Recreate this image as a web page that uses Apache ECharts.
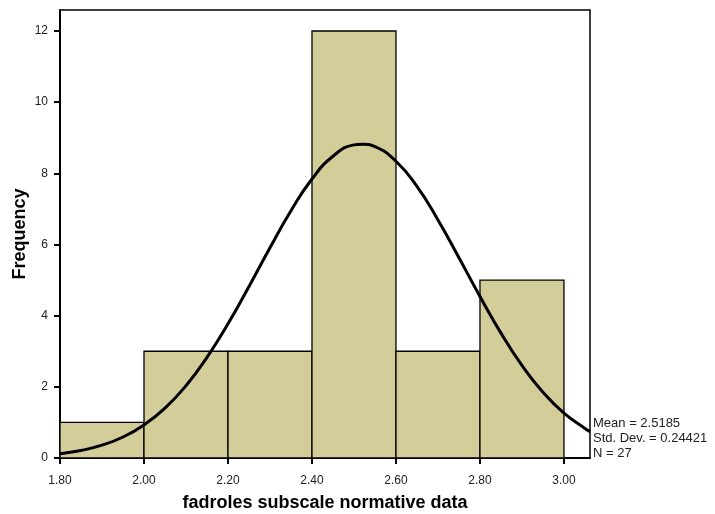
<!DOCTYPE html>
<html>
<head>
<meta charset="utf-8">
<script src="https://cdn.jsdelivr.net/npm/echarts@6/dist/echarts.min.js"></script>
<style>
  html, body { margin: 0; padding: 0; background: #fff; }
  #chart { width: 715px; height: 514px; }
</style>
</head>
<body>
<div id="chart"></div>
<script>
// histogram bins (lower edge, upper edge) and counts
var binStart = [1.8, 2.0, 2.2, 2.4, 2.6, 2.8];
var binEnd = [2.0, 2.2, 2.4, 2.6, 2.8, 3.0];
var counts = [1, 3, 3, 12, 3, 5];

// normal curve
var curveX = [1.8, 1.85, 1.9, 1.95, 2.0, 2.05, 2.1, 2.15, 2.2, 2.25, 2.3, 2.35, 2.4, 2.45, 2.5, 2.52, 2.55, 2.6, 2.65, 2.7, 2.75, 2.8, 2.85, 2.9, 2.95, 3.0, 3.05, 3.062];
var curveY = [0.12, 0.21, 0.36, 0.59, 0.93, 1.40, 2.03, 2.83, 3.77, 4.82, 5.91, 6.95, 7.84, 8.48, 8.80, 8.82, 8.75, 8.34, 7.63, 6.69, 5.63, 4.54, 3.51, 2.60, 1.85, 1.26, 0.83, 0.74];

var xTicks = ['1.80', '2.00', '2.20', '2.40', '2.60', '2.80', '3.00'];
var statsText = ['Mean = 2.5185', 'Std. Dev. = 0.24421', 'N = 27'];

var barData = [];
for (var i = 0; i < counts.length; i++) {
    barData.push([binStart[i], binEnd[i], counts[i]]);
}
var curveData = [];
for (var j = 0; j < curveX.length; j++) {
    curveData.push([curveX[j], curveY[j]]);
}

var myChart = echarts.init(document.getElementById('chart'));
var font = 'Arial, "Liberation Sans", sans-serif';

var option = {
    animation: false,
    grid: {
        left: 60, right: 125, top: 10, bottom: 56,
        outerBoundsMode: 'none',
        containLabel: false,
        show: true, borderColor: '#000', borderWidth: 1.5
    },
    xAxis: {
        type: 'value',
        min: 1.8,
        max: 3.062,
        interval: 0.2,
        name: 'fadroles subscale normative data',
        nameLocation: 'middle',
        nameGap: 36,
        nameMoveOverlap: false,
        nameTextStyle: { fontFamily: font, fontSize: 18, fontWeight: 'bold', color: '#000' },
        axisLine: { lineStyle: { color: '#000', width: 2 } },
        axisTick: { length: 6, lineStyle: { color: '#000', width: 2 } },
        splitLine: { show: false },
        axisLabel: {
            fontFamily: font, fontSize: 12, color: '#222', margin: 17,
            showMaxLabel: false,
            formatter: function (v) {
                var s = v.toFixed(2);
                return xTicks.indexOf(s) >= 0 ? s : '';
            }
        }
    },
    yAxis: {
        type: 'value',
        min: 0,
        max: 12.59,
        interval: 2,
        name: 'Frequency',
        nameLocation: 'middle',
        nameGap: 31,
        nameMoveOverlap: false,
        nameTextStyle: { fontFamily: font, fontSize: 18, fontWeight: 'bold', color: '#000' },
        axisLine: { show: true, lineStyle: { color: '#000', width: 2 } },
        axisTick: { show: true, length: 6, lineStyle: { color: '#000', width: 2 } },
        splitLine: { show: false },
        axisLabel: {
            fontFamily: font, fontSize: 12, color: '#222', margin: 12,
            showMaxLabel: false
        }
    },
    series: [{
        type: 'custom',
        data: barData,
        encode: { x: [0, 1], y: 2 },
        renderItem: function (params, api) {
            var p0 = api.coord([api.value(0), api.value(2)]);
            var p1 = api.coord([api.value(1), 0]);
            return {
                type: 'rect',
                shape: { x: p0[0], y: p0[1], width: p1[0] - p0[0], height: p1[1] - p0[1] },
                style: { fill: '#d3cd9a', stroke: '#000', lineWidth: 1.3 }
            };
        },
        z: 2
    }, {
        type: 'line',
        data: curveData,
        smooth: true,
        symbol: 'none',
        lineStyle: { color: '#000', width: 3 },
        z: 3
    }],
    graphic: [{
        type: 'text',
        left: 593,
        top: 416,
        style: {
            text: statsText.join('\n'),
            font: '13px ' + font,
            fill: '#222',
            lineHeight: 15
        }
    }]
};

option && myChart.setOption(option);
</script>
</body>
</html>
